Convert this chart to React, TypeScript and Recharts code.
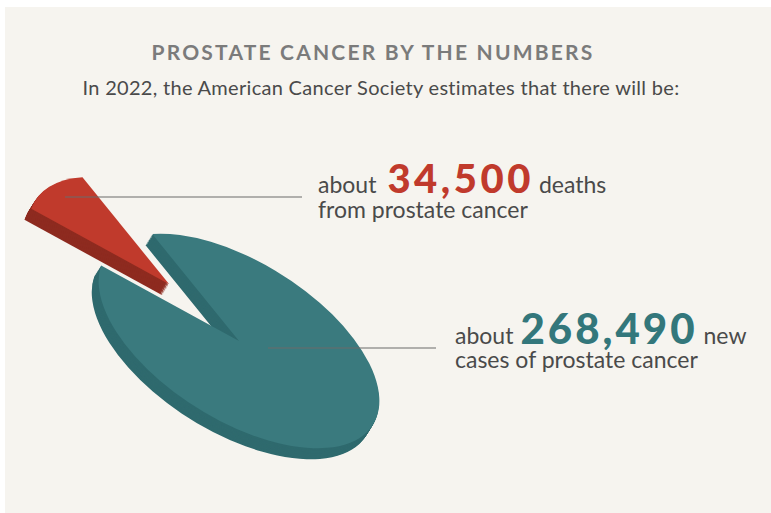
import { Cell, Pie, PieChart } from "recharts";

// values from the infographic (ACS estimates, 2022)
const categories = ["Deaths", "New cases"];
const values = [34500, 268490];
const bigLabels = ["34,500", "268,490"];

const data = categories.map((name, i) => ({ name, value: values[i] }));

const TOP = ["#c03a2c", "#3a7a7e"];
const SIDE = ["#8e2b20", "#2f6a6e"];
const BG = "#f6f4ef";
const TEXT = "#4a4a4a";

// pie is drawn flat in its own box, then tilted with a css transform
const BOX = 640;
const C = BOX / 2;
const R = 158;
const MID = 166; // where the red slice points
const share = values[0] / (values[0] + values[1]);
const START = MID - share * 180;
const EXPLODE = 92;
const ex = Math.cos((MID * Math.PI) / 180) * EXPLODE;
const ey = -Math.sin((MID * Math.PI) / 180) * EXPLODE;
const DEPTH = 26;
const depths = Array.from({ length: DEPTH / 2 + 1 }, (_, i) => DEPTH - i * 2);

function slab(key: string, cx: number, cy: number, colors: string[], show: number) {
  return (
    <Pie
      key={key}
      data={data}
      dataKey="value"
      cx={cx}
      cy={cy}
      outerRadius={R}
      startAngle={START}
      endAngle={START + 360}
      stroke="none"
      isAnimationActive={false}
    >
      {data.map((d, i) => (
        <Cell key={d.name} fill={i === show ? colors[i] : "transparent"} />
      ))}
    </Pie>
  );
}

export default function App() {
  return (
    <div
      style={{
        position: "relative",
        width: 771,
        height: 513,
        background: "#fff",
        overflow: "hidden",
        fontFamily: "Lato, sans-serif",
      }}
    >
      <style>{`body{margin:0}`}</style>
      <div
        style={{
          position: "absolute",
          left: 5,
          top: 7,
          right: 0,
          bottom: 0,
          background: BG,
        }}
      />

      <div
        style={{
          position: "absolute",
          left: 239 - C,
          top: 341 - C,
          width: BOX,
          height: BOX,
          transform: "rotate(32deg) scaleY(0.5)",
          transformOrigin: "50% 50%",
        }}
      >
        <PieChart width={BOX} height={BOX} margin={{ top: 0, right: 0, bottom: 0, left: 0 }}>
          {depths.map((d) =>
            slab(`t${d}`, C, C + d, d === 0 ? TOP : SIDE, 1)
          )}
          {depths.map((d) =>
            slab(`r${d}`, C + ex, C + ey + d, d === 0 ? TOP : SIDE, 0)
          )}
        </PieChart>
      </div>

      <svg
        width={771}
        height={513}
        style={{ position: "absolute", left: 0, top: 0 }}
      >
        <line x1={65} y1={197} x2={302} y2={197} stroke="#6b6b6b" strokeWidth={1.2} />
        <line x1={268} y1={348} x2={436} y2={348} stroke="#6b6b6b" strokeWidth={1.2} />

        <text
          x={373}
          y={60}
          textAnchor="middle"
          fontSize={21}
          fontWeight={700}
          letterSpacing={2.2}
          fill="#7b7b7b"
        >
          PROSTATE CANCER BY THE NUMBERS
        </text>
        <text
          x={381}
          y={95}
          textAnchor="middle"
          fontSize={20}
          letterSpacing={0.3}
          fill={TEXT}
        >
          In 2022, the American Cancer Society estimates that there will be:
        </text>

        <text x={318} y={193} fontSize={23} fill={TEXT}>
          about
          <tspan dx={11} fontSize={40} fontWeight={900} letterSpacing={3.5} fill={TOP[0]}>
            {bigLabels[0]}
          </tspan>
          <tspan dx={5}>deaths</tspan>
        </text>
        <text x={318} y={218} fontSize={23} fill={TEXT}>
          from prostate cancer
        </text>

        <text x={455} y={344} fontSize={23} fill={TEXT}>
          about
          <tspan dx={7} fontSize={42} fontWeight={900} letterSpacing={3} fill="#33777b">
            {bigLabels[1]}
          </tspan>
          <tspan dx={6}>new</tspan>
        </text>
        <text x={455} y={368} fontSize={23} fill={TEXT}>
          cases of prostate cancer
        </text>
      </svg>
    </div>
  );
}
